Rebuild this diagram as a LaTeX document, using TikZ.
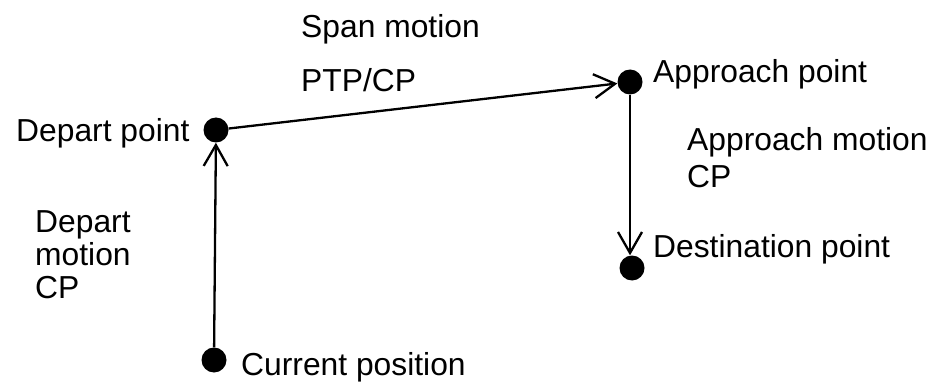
\documentclass[tikz,border=0pt]{standalone}
\usepackage{fontspec}
\setmainfont{Liberation Sans}
\usetikzlibrary{arrows.meta}
\begin{document}
\begin{tikzpicture}[x=1pt,y=-1pt,
  dot/.style={circle,fill=black,inner sep=0pt,minimum size=25pt},
  lbl/.style={anchor=base west,inner sep=0pt,font=\fontsize{31.8}{33}\selectfont,align=left},
  conn/.style={line width=2.3pt,-{Straight Barb[length=21pt,width=24pt,line width=2.3pt]}}]
\useasboundingbox (0,0) rectangle (940,385);
\node[dot] (dep) at (216,130) {};
\node[dot] (app) at (630,82) {};
\node[dot] (dst) at (632,268) {};
\node[dot] (cur) at (214,360) {};
\draw[conn] (cur) -- (dep);
\draw[conn] (dep) -- (app);
\draw[conn] (app.south) -- (app.south |- dst.north);
\node[lbl] (t1) at (301,38) {Span motion};
\node[lbl] (t2) at (301,92) {PTP/CP};
\node[lbl] (t3) at (16,142) {Depart point};
\node[lbl] (t4) at (653,83) {Approach point};
\node[lbl,font=\fontsize{31.8}{37}\selectfont] (t5) at (687,187) {Approach motion\\CP};
\node[lbl] (t6) at (35,298) {Depart\\motion\\CP};
\node[lbl] (t7) at (653,257) {Destination point};
\node[lbl] (t8) at (241,375) {Current position};
\end{tikzpicture}
\end{document}
